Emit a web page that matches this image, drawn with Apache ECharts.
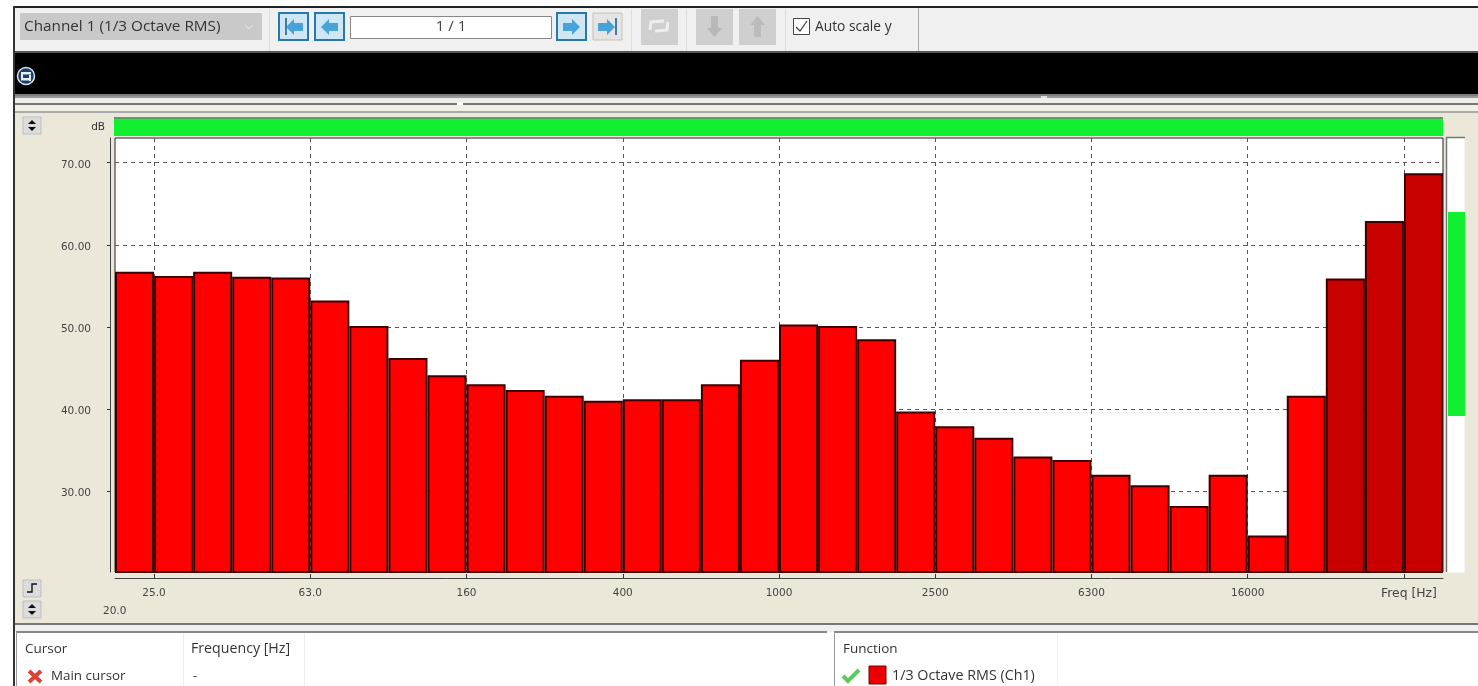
<!DOCTYPE html>
<html><head><meta charset="utf-8">
<style>html,body{margin:0;padding:0;background:#fff;overflow:hidden}
#c{position:absolute;left:0;top:0;width:1478px;height:686px}
.bg{position:absolute}</style>
<script src="https://cdn.jsdelivr.net/npm/echarts@6/dist/echarts.min.js"></script>
</head><body>
<div class="bg" style="left:15px;top:8px;width:1463px;height:44px;background:#f0f0f0"></div>
<div class="bg" style="left:15px;top:112px;width:1463px;height:512px;background:#ebe8da"></div>
<div id="c"></div>
<script>
const bandStarts = ['20','25','31.5','40','50','63','80','100','125','160','200','250','315','400','500','630','800','1000','1250','1600','2000','2500','3150','4000','5000','6300','8000','10000','12500','16000','20000','25000','31500','40000'];
const bandEdges = bandStarts.concat(['50000']);
const levels = [56.7,56.2,56.7,56.1,56.0,53.2,50.1,46.2,44.1,43.0,42.3,41.6,41.0,41.2,41.2,43.0,46.0,50.3,50.1,48.5,39.7,37.9,36.5,34.2,33.8,32.0,30.7,28.2,32.0,24.6,41.6,55.9,62.9,68.7];
const overloadFrom = '25000';
const tickEdges = ['25','63','160','400','1000','2500','6300','16000','40000'];
const tickLabels = ['25.0','63.0','160','400','1000','2500','6300','16000','Freq [Hz]'];
const yTicks = [30,40,50,60,70];
const ui='"Open Sans","Noto Sans",sans-serif', ax='"DejaVu Sans",sans-serif';

function R(x,y,w,h,fill,stroke,lw){return {type:'rect',shape:{x,y,width:w,height:h},style:{fill:fill||'none',stroke:stroke||null,lineWidth:lw||1},silent:true};}
function T(x,y,text,size,color,font,align){return {type:'text',x,y,style:{text,fontSize:size,fill:color||'#333',fontFamily:font||ui,align:align||'left',verticalAlign:'middle'},silent:true};}
function P(points,fill){return {type:'polygon',shape:{points},style:{fill},silent:true};}
function L(points,stroke,lw){return {type:'polyline',shape:{points},style:{stroke,lineWidth:lw,fill:'none'},silent:true};}
function arrow(cx,cy,dir,fill){const d=dir;return P([[cx-9*d,cy],[cx-1*d,cy-8],[cx-1*d,cy-4],[cx+8*d,cy-4],[cx+8*d,cy+4],[cx-1*d,cy+4],[cx-1*d,cy+8]],fill);}
function spinner(x,y){return [R(x,y,18,17,'#dcdcdc','#bdbdbd'),P([[x+9,y+3],[x+13,y+7],[x+5,y+7]],'#111'),P([[x+9,y+14],[x+13,y+10],[x+5,y+10]],'#111')];}

const chrome=[
 R(13,6,1465,2,'#222'),R(13,6,2,680,'#333'),
 R(20,13,242,27,'#c9c9c9'),T(24,27,'Channel 1 (1/3 Octave RMS)',15.3,'#333'),
 L([[245,25],[249,29],[253,25]],'#ddd',1.2),
 R(269,9,1,42,'#dedede'),
 R(279,13,29,27,'#cfe6f5','#2a77ad',2),R(315,13,29,27,'#cfe6f5','#2a77ad',2),
 arrow(295,27,1,'#47a3d8'),R(285,18,2,17,'#3d7ea8'),arrow(330,27,1,'#47a3d8'),
 R(350.5,16.5,201,22,'#fff','#888'),T(451,27,'1 / 1',15,'#444',ui,'center'),
 R(557,13,29,27,'#cfe6f5','#2a77ad',2),R(593,13,29,27,'#e5e5e5','#c9c0b0',1),
 arrow(571,27,-1,'#47a3d8'),arrow(606,27,-1,'#47a3d8'),R(615,18,2,17,'#3d7ea8'),
 R(631,9,1,42,'#dedede'),
 R(641,9,37,36,'#cfcfcf'),L([[650,30],[651,22],[664,21]],'#eee',3),L([[668,22],[667,30],[655,31]],'#eee',3),
 R(686,9,1,42,'#dedede'),
 R(696,9,37,36,'#cfcfcf'),R(739,9,37,36,'#cfcfcf'),
 P([[711,16],[718,16],[718,28],[722,28],[714.5,37],[707,28],[711,28]],'#b8b8b8'),
 P([[754,37],[761,37],[761,25],[765,25],[757.5,16],[750,25],[754,25]],'#bcbcbc'),
 R(785,9,1,42,'#dedede'),
 R(793.5,18.5,16,16,'#fff','#444'),L([[796,27],[800,31],[807,21]],'#444',1.3),
 T(815,27,'Auto scale y',13.8,'#333'),
 R(918,8,1,44,'#aaa'),
 R(15,51,1463,2,'#555'),
 R(15,53,1463,41,'#000'),
 {type:'circle',shape:{cx:26,cy:76,r:8.5},style:{fill:'#1f3f66',stroke:'#d5e3ee',lineWidth:1.5},silent:true},
 R(21,72,10,2.5,'#e6eef5'),R(21,78,10,2.5,'#e6eef5'),R(21,72,2,8,'#e6eef5'),R(29,75,2,6,'#e6eef5'),
 R(15,94,1463,2,'#808080'),R(15,96,1463,2,'#999'),R(15,98,1463,6,'#eeeeea'),
 R(15,103,1463,2,'#777'),R(15,105,1463,6,'#f2efe6'),R(15,111,1463,2,'#aaa'),
 R(457,102,6,3,'#fff'),R(1041,96,6,2,'#ddd'),
 R(114,118,1329,18,'#10f030'),R(114,117,1329,2,'#5d9d63'),
 T(105,127,'dB',10.5,'#333',ax,'right'),
 R(1446.5,137.5,18,435,'#fff'),L([[1465,137.5],[1446.5,137.5],[1446.5,572]],'#777',1.5),R(1448,212,17,204,'#10f030'),
 R(15,623,1463,2,'#777'),R(15,625,1463,7,'#efefef'),
 R(16,632,811,54,'#fff'),R(834,632,644,54,'#fff'),
 R(16,631,811,2,'#888'),R(834,631,644,2,'#888'),
 R(16,632,1,54,'#999'),R(834,632,1,54,'#999'),
 R(183,633,1,53,'#eee'),R(304,633,1,53,'#eee'),R(1057,633,1,53,'#eee'),
 T(25,649,'Cursor',13.5,'#333'),T(191,649,'Frequency [Hz]',14.2,'#333'),
 L([[29,671],[41,682]],'#d9443a',4),L([[41,671],[29,682]],'#d9443a',4),
 T(51,676,'Main cursor',13.4,'#333'),T(193,676,'-',13,'#333'),
 T(843,649,'Function',13.5,'#333'),
 L([[843,676],[848,681],[859,670]],'#5cc95c',4),
 R(869,666,17,18,'#ee0000','#700',1),
 T(892,676,'1/3 Octave RMS (Ch1)',14.3,'#333'),
 T(103,611,'20.0',10.5,'#444',ax)
].concat(spinner(23,117),spinner(23,601),[R(23,580,18,17,'#dcdcdc','#bdbdbd'),L([[27,592],[32,592],[32,584],[37,584]],'#111',1.4)]);

const chart=echarts.init(document.getElementById('c'));
chart.setOption({
 animation:false,
 backgroundColor:'transparent',
 graphic:{elements:[{type:'group',z:50,silent:true,children:chrome}]},
 grid:{left:115,right:35,top:138,height:434,show:true,backgroundColor:'#fff',borderColor:'#222',borderWidth:1},
 xAxis:[
  {type:'category',data:bandStarts,boundaryGap:true,show:false,gridIndex:0},
  {type:'category',data:bandEdges,boundaryGap:false,gridIndex:0,position:'bottom',offset:6,
   axisLine:{show:true,onZero:false,lineStyle:{color:'#444',width:1}},
   axisTick:{show:true,inside:true,length:4,interval:(i,v)=>tickEdges.includes(v),lineStyle:{color:'#333'}},
   axisLabel:{show:true,interval:(i,v)=>tickEdges.includes(v),
    formatter:v=>{const s=tickLabels[tickEdges.indexOf(v)];return v==='40000'?'{u|'+s+'}':s;},
    rich:{u:{fontSize:12.4,fontFamily:ax,color:'#444',padding:[0,0,0,10]}},
    margin:10,fontSize:10.5,color:'#444',fontFamily:ax,hideOverlap:false},
   splitLine:{show:true,interval:(i,v)=>tickEdges.includes(v),lineStyle:{color:'#555',type:[4,4],width:1}}}
 ],
 yAxis:{type:'value',min:20.15,max:73,offset:5,
  axisLine:{show:true,lineStyle:{color:'#444'}},
  axisTick:{show:true,length:3,customValues:yTicks,lineStyle:{color:'#333'}},
  axisLabel:{customValues:yTicks,formatter:v=>'{v|'+v.toFixed(2)+'}',rich:{v:{fontSize:10.5,fontFamily:ax,color:'#444',padding:[5,0,0,0]}},margin:19,fontSize:10.5,color:'#444',fontFamily:ax},
  splitLine:{show:true,lineStyle:{color:'#555',type:[4,4],width:1}}},
 series:[{type:'bar',xAxisIndex:0,data:levels,barCategoryGap:0,barGap:0,
  itemStyle:{color:p=>p.dataIndex>=bandStarts.indexOf(overloadFrom)?'#c80000':'#fe0000',borderColor:'#3c0000',borderWidth:2},z:3}]
});
</script></body></html>
